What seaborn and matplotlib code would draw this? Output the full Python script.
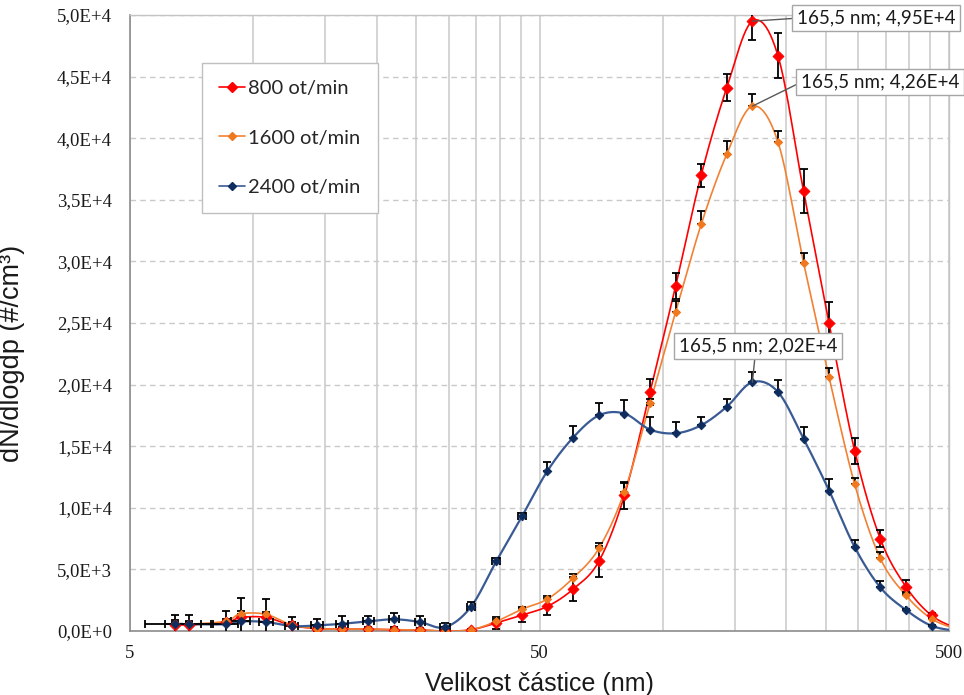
import numpy as np
import pandas as pd
import matplotlib
matplotlib.use("Agg")
import matplotlib.pyplot as plt
from matplotlib.ticker import FixedLocator, NullFormatter
from matplotlib.lines import Line2D
import seaborn as sns

# ---------------- data ----------------
sizes_nm = [6.44, 6.98, 8.58, 9.31, 10.75, 12.4, 14.3, 16.5, 19.1, 22.1, 25.5, 29.4,
            34.0, 39.2, 45.3, 52.3, 60.4, 69.8, 80.6, 93.1, 107.5, 124.1, 143.3, 165.5,
            191.1, 220.7, 254.8, 294.3, 339.8, 392.4, 453.2, 523.3]

rpm800 = [500, 500, 700, 1100, 1100, 450, 200, 150, 150, 100, 80, 0,
          100, 650, 1300, 2000, 3400, 5650, 11000, 19400, 28000, 37000, 44100, 49500,
          46700, 35700, 25000, 14600, 7480, 3600, 1260, 200]
rpm1600 = [550, 550, 800, 1400, 1350, 500, 200, 150, 150, 100, 80, 0,
           100, 780, 1770, 2600, 4300, 6700, 11300, 18500, 25900, 33000, 38700, 42600,
           39700, 29900, 20600, 11900, 5900, 2900, 990, 150]
rpm2400 = [590, 550, 550, 780, 730, 400, 450, 590, 780, 950, 730, 310,
           1960, 5650, 9300, 13000, 15700, 17500, 17650, 16350, 16050, 16700, 18200, 20200,
           19400, 15600, 11400, 6800, 3540, 1710, 420, 0]

err800 = [800, 800, 900, 1600, 1500, 700, 200, 200, 200, 200, 200, 100,
          100, 460, 560, 700, 980, 1260, 1100, 1050, 1050, 930, 1120, 1550,
          1800, 1800, 1700, 1080, 700, 500, 225, 0]
err1600 = [200, 200, 200, 200, 200, 150, 100, 100, 100, 100, 100, 50,
           100, 200, 200, 240, 340, 420, 700, 370, 900, 1120, 1070, 1010,
           870, 760, 760, 500, 500, 280, 150, 0]
err2400 = [300, 300, 300, 300, 300, 300, 500, 600, 400, 500, 500, 300,
           400, 300, 300, 730, 930, 990, 1120, 1040, 900, 670, 620, 840,
           980, 980, 960, 560, 480, 100, 50, 0]
xerr2400 = [1.0, 0.9, 0.6, 0.5, 0.45, 0.45, 0.5, 0.55, 0.6, 0.65, 0.7, 0.75,
            0.8, 0.9, 1.0, 0, 0, 0, 0, 0, 0, 0, 0, 0,
            0, 0, 0, 0, 0, 0, 0, 0]

series_labels = ["800 ot/min", "1600 ot/min", "2400 ot/min"]
peak_size = 165.5
peak_texts = ["165,5 nm; 4,95E+4", "165,5 nm; 4,26E+4", "165,5 nm; 2,02E+4"]
peak_values = [49500, 42600, 20200]

ytick_values = [0, 5000, 10000, 15000, 20000, 25000, 30000, 35000, 40000, 45000, 50000]
ytick_labels = ["0,0E+0", "5,0E+3", "1,0E+4", "1,5E+4", "2,0E+4", "2,5E+4",
                "3,0E+4", "3,5E+4", "4,0E+4", "4,5E+4", "5,0E+4"]
xtick_values = [5, 50, 500]
xtick_labels = ["5", "50", "500"]
x_minor = [10, 15, 20, 25, 30, 35, 40, 45, 100, 150, 200, 250, 300, 350, 400, 450]

xlabel = "Velikost částice (nm)"
ylabel = "dN/dlogdp (#/cm³)"

# ---------------- helpers ----------------
def smooth(xs, ys, n=24):
    u = np.log10(np.asarray(xs, float))
    v = np.asarray(ys, float)
    pts = np.column_stack([u, v])
    P = np.vstack([pts[0], pts, pts[-1]])
    out = []
    t = np.linspace(0, 1, n, endpoint=False)[:, None]
    for i in range(1, len(P) - 2):
        p0, p1, p2, p3 = P[i - 1], P[i], P[i + 1], P[i + 2]
        b1 = p1 + (p2 - p0) / 6.0
        b2 = p2 - (p3 - p1) / 6.0
        seg = (1 - t) ** 3 * p1 + 3 * (1 - t) ** 2 * t * b1 + 3 * (1 - t) * t ** 2 * b2 + t ** 3 * p2
        out.append(seg)
    out.append(pts[-1:])
    out = np.vstack(out)
    return 10 ** out[:, 0], out[:, 1]

# ---------------- figure ----------------
sns.set_style("white")
plt.rcParams["font.family"] = ["Liberation Sans", "DejaVu Sans"]

W, H = 964, 695
fig = plt.figure(figsize=(W / 100, H / 100), dpi=100)
L, R, T, B = 130, 949, 15, 631
ax = fig.add_axes([L / W, 1 - B / H, (R - L) / W, (B - T) / H])

ax.set_xscale("log")
ax.set_xlim(5, 500)
ax.set_ylim(0, 50000)

grid_c = "#C9C9C9"
ax.xaxis.set_minor_locator(FixedLocator(x_minor))
ax.xaxis.set_minor_formatter(NullFormatter())
ax.grid(axis="x", which="both", color=grid_c, lw=1.1, ls="-")
ax.grid(axis="y", which="major", color=grid_c, lw=1.0, ls=(0, (4, 3)))
ax.set_axisbelow(True)

styles = [
    dict(line="#FF0000", marker="#FF0000", lw=1.2, ms=5.6, err=err800, sym=True),
    dict(line="#F28133", marker="#F0781E", lw=1.2, ms=4.2, err=err1600, sym=False),
    dict(line="#3A5A94", marker="#0E2C5E", lw=1.6, ms=4.4, err=err2400, sym=False),
]
datas = [rpm800, rpm1600, rpm2400]

for k, (ys, st) in enumerate(zip(datas, styles)):
    sx, sy = smooth(sizes_nm, ys)
    sns.lineplot(x=sx, y=sy, sort=False, estimator=None, ax=ax, color=st["line"],
                 lw=st["lw"], zorder=3 + k, legend=False)

for k, (ys, st) in enumerate(zip(datas, styles)):
    e = np.asarray(st["err"], float)
    yerr = [e, e] if st["sym"] else [np.zeros_like(e), e]
    xerr = None
    if k == 2:
        xe = np.asarray(xerr2400, float)
        xerr = [xe, xe]
    ax.errorbar(sizes_nm, ys, yerr=yerr, xerr=xerr, fmt="none", ecolor="black",
                elinewidth=1.3, capsize=2.6, capthick=1.3, zorder=6 + k)

for k, (ys, st) in enumerate(zip(datas, styles)):
    sns.scatterplot(x=sizes_nm, y=ys, ax=ax, marker="D", s=st["ms"] ** 2,
                    color=st["marker"], edgecolor=st["marker"], linewidth=0.6,
                    zorder=10 + k, legend=False)

# ticks
ax.set_yticks(ytick_values)
ax.set_yticklabels(ytick_labels)
ax.set_xticks(xtick_values)
ax.set_xticklabels(xtick_labels)
ax.tick_params(axis="x", which="minor", length=0)
ax.tick_params(axis="x", which="major", length=6, width=1, color="#8C8C8C", pad=4, direction="out")
ax.tick_params(axis="y", which="major", length=5, width=1, color="#8C8C8C", pad=8, direction="out")
for lab in ax.get_xticklabels() + ax.get_yticklabels():
    lab.set_fontfamily(["Liberation Serif", "DejaVu Serif"])
    lab.set_fontsize(13.5)
    lab.set_color("#1A1A1A")

for side in ["top", "right"]:
    ax.spines[side].set_color("#C4C4C4")
    ax.spines[side].set_linewidth(1.0)
for side in ["left", "bottom"]:
    ax.spines[side].set_color("#8C8C8C")
    ax.spines[side].set_linewidth(1.2)

ax.set_xlabel(xlabel, fontsize=18, color="#1A1A1A")
ax.set_ylabel(ylabel, fontsize=19.5, color="#1A1A1A")
ax.xaxis.set_label_coords(0.5, -0.066)
ax.yaxis.set_label_coords(-0.128, 0.45)

# legend
handles = [Line2D([0], [0], color=st["line"], lw=1.2, marker="D",
                  markersize=st["ms"], markerfacecolor=st["marker"],
                  markeredgecolor=st["marker"]) for k, st in enumerate(styles)]
leg = ax.legend(handles, series_labels, loc="upper left",
                bbox_to_anchor=((202 - L) / (R - L), (B - 63) / (B - T)),
                frameon=True, fancybox=False, edgecolor="#BFBFBF", framealpha=1,
                prop={"family": ["Lato", "DejaVu Sans"], "size": 14.5},
                labelspacing=1.6, handlelength=1.3, handletextpad=0.15,
                borderpad=0.85, borderaxespad=0)
leg.get_frame().set_linewidth(1.0)
leg.set_zorder(20)

# peak annotations
offsets = [(124, 3), (128, 24), (6, 36)]
relpos = [(0, 0.5), (0, 0.5), (0.48, 0)]
for txt, val, off, rp in zip(peak_texts, peak_values, offsets, relpos):
    ax.annotate(txt, xy=(peak_size, val), xytext=off, textcoords="offset pixels",
                ha="center", va="center", fontsize=13.5,
                family=["Lato", "DejaVu Sans"], color="#1A1A1A",
                bbox=dict(boxstyle="square,pad=0.25", fc="white", ec="#A6A6A6", lw=1.0),
                arrowprops=dict(arrowstyle="-", color="#595959", lw=1.0,
                                relpos=rp, shrinkA=0, shrinkB=0),
                zorder=25)

fig.savefig("out.png", dpi=100)
